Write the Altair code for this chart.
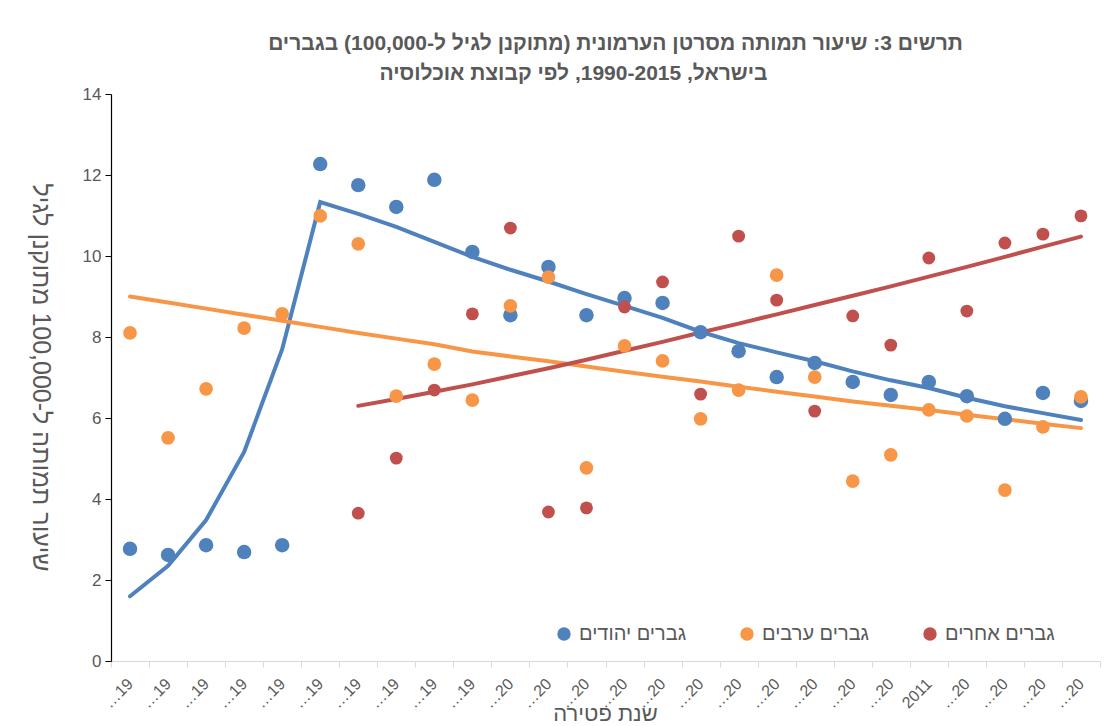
import re
import json
import altair as alt
import pandas as pd

# ---------------- data ----------------
years = list(range(1990, 2016))
tick_labels = ["…19"] * 10 + ["…20"] * 11 + ["2011"] + ["…20"] * 4

series_names = ["גברים יהודים", "גברים ערבים", "גברים אחרים"]
colors = ["#4F81BD", "#F79646", "#C0504D"]

jewish = [2.77, 2.62, 2.86, 2.69, 2.86, 12.27, 11.75, 11.21, 11.88, 10.10,
          8.54, 9.73, 8.54, 8.96, 8.84, 8.12, 7.65, 7.01, 7.36, 6.89,
          6.57, 6.89, 6.54, 5.98, 6.62, 6.42]
arab = [8.10, 5.51, 6.72, 8.22, 8.57, 10.99, 10.30, 6.54, 7.33, 6.44,
        8.77, 9.48, 4.77, 7.78, 7.41, 5.98, 6.69, 9.53, 7.01, 4.44,
        5.09, 6.20, 6.05, 4.22, 5.78, 6.52]
other = [None, None, None, None, None, None, 3.65, 5.01, 6.69, 8.57,
         10.69, 3.68, 3.78, 8.74, 9.36, 6.59, 10.49, 8.91, 6.17, 8.52,
         7.80, 9.95, 8.64, 10.32, 10.54, 10.99]

jewish_trend = [1.60, 2.35, 3.48, 5.16, 7.70, 11.33, 11.04, 10.72, 10.35, 9.98,
                9.66, 9.37, 9.06, 8.77, 8.47, 8.13, 7.85, 7.62, 7.40, 7.15,
                6.93, 6.74, 6.50, 6.29, 6.12, 5.95]
arab_trend = [9.00, 8.85, 8.70, 8.55, 8.40, 8.25, 8.10, 7.96, 7.82, 7.64,
              7.52, 7.40, 7.27, 7.14, 7.02, 6.90, 6.77, 6.65, 6.53, 6.41,
              6.30, 6.20, 6.08, 5.97, 5.86, 5.75]
other_trend = [None, None, None, None, None, None, 6.30, 6.47, 6.65, 6.83,
               7.03, 7.23, 7.44, 7.66, 7.88, 8.11, 8.33, 8.56, 8.79, 9.02,
               9.25, 9.49, 9.73, 9.98, 10.23, 10.48]

title_lines = ["תרשים 3: שיעור תמותה מסרטן הערמונית (מתוקנן לגיל ל-100,000) בגברים",
               "בישראל, 1990-2015, לפי קבוצת אוכלוסיה"]
x_title = "שנת פטירה"
y_title = "שיעור תמותה ל-100,000 מתוקנן לגיל"

HEB = re.compile("([\u0590-\u05FF]+)")
LRE, RLE, PDF = chr(0x202A), chr(0x202B), chr(0x202C)


def vis(s, pad=""):
    # words laid out left to right as in the reference, each Hebrew word kept right-to-left
    return LRE + HEB.sub(lambda m: RLE + m.group(1) + PDF, s) + pad + PDF


names_vis = [vis(n) for n in series_names]

pts_rows, line_rows = [], []
for name, vals, trend in zip(names_vis, [jewish, arab, other],
                             [jewish_trend, arab_trend, other_trend]):
    for y, v, t in zip(years, vals, trend):
        if v is not None:
            pts_rows.append({"year": y, "series": name, "value": v})
        if t is not None:
            line_rows.append({"year": y, "series": name, "value": t})
pts = pd.DataFrame(pts_rows)
lines = pd.DataFrame(line_rows)

FONT = "Liberation Sans, Arial, DejaVu Sans, sans-serif"
GRAY = "#595959"

label_expr = json.dumps(tick_labels, ensure_ascii=False) + "[toNumber(datum.value) - 1990]"

x_enc = alt.X(
    "year:O",
    scale=alt.Scale(type="band", paddingInner=0, paddingOuter=0),
    bandPosition=0.5,
    axis=alt.Axis(
        title=vis(x_title), labelExpr=label_expr, labelAngle=-45, labelAlign="right",
        labelBaseline="middle", labelPadding=14, labelFontSize=16, labelColor=GRAY,
        labelOverlap=False, tickBand="extent", tickColor="#d9d9d9", tickSize=6,
        domainColor="#d9d9d9", domainWidth=1.2, titleFontSize=22, titleFontWeight="normal",
        titleColor=GRAY, titleX=494, titleY=59, titleAlign="center",
        titleBaseline="alphabetic", grid=False,
    ),
)
y_enc = alt.Y(
    "value:Q",
    scale=alt.Scale(domain=[0, 14], nice=False),
    axis=alt.Axis(
        values=[0, 2, 4, 6, 8, 10, 12, 14], title=vis(y_title), grid=False,
        domainColor="#000000", domainWidth=1.2, tickColor="#000000", tickSize=6,
        labelFontSize=17, labelColor=GRAY, labelPadding=4, titleAngle=90,
        titleX=-71, titleY=283, titleAlign="center", titleBaseline="middle",
        titleFontSize=25, titleFontWeight="normal", titleColor=GRAY,
    ),
)
color_scale = alt.Scale(domain=names_vis, range=colors)

line_layer = alt.Chart(lines).mark_line(strokeWidth=4, strokeCap="round").encode(
    x=x_enc, y=y_enc,
    color=alt.Color("series:N", scale=color_scale, legend=None),
    detail="series:N",
)
point_layer = alt.Chart(pts).mark_circle(opacity=1).encode(
    x=x_enc, y=y_enc,
    color=alt.Color(
        "series:N", scale=color_scale,
        legend=alt.Legend(
            orient="none", legendX=443, legendY=530, direction="horizontal", title=None,
            labelFontSize=20, labelColor=GRAY, symbolType="circle", symbolSize=180,
            symbolStrokeWidth=0, columnPadding=50, labelOffset=5, labelFont=FONT,
        ),
    ),
    size=alt.Size("series:N", scale=alt.Scale(domain=names_vis, range=[210, 165, 160]),
                  legend=None),
)

title_text = [vis(title_lines[0]), vis(title_lines[1], pad="\u2002" * 8)]

chart = (
    alt.layer(line_layer, point_layer)
    .resolve_legend(color="independent")
    .properties(
        width=989, height=567,
        padding={"left": 103, "top": 86, "right": 2, "bottom": 64},
        autosize=alt.AutoSizeParams(type="none"),
        title=alt.Title(title_text, fontSize=21, fontWeight="bold", color=GRAY,
                        anchor="middle", offset=1, lineHeight=30, font=FONT, dx=10),
    )
    .configure(font=FONT)
    .configure_view(stroke=None)
)

chart.save("out.html", embed_options={"renderer": "svg", "actions": False})
